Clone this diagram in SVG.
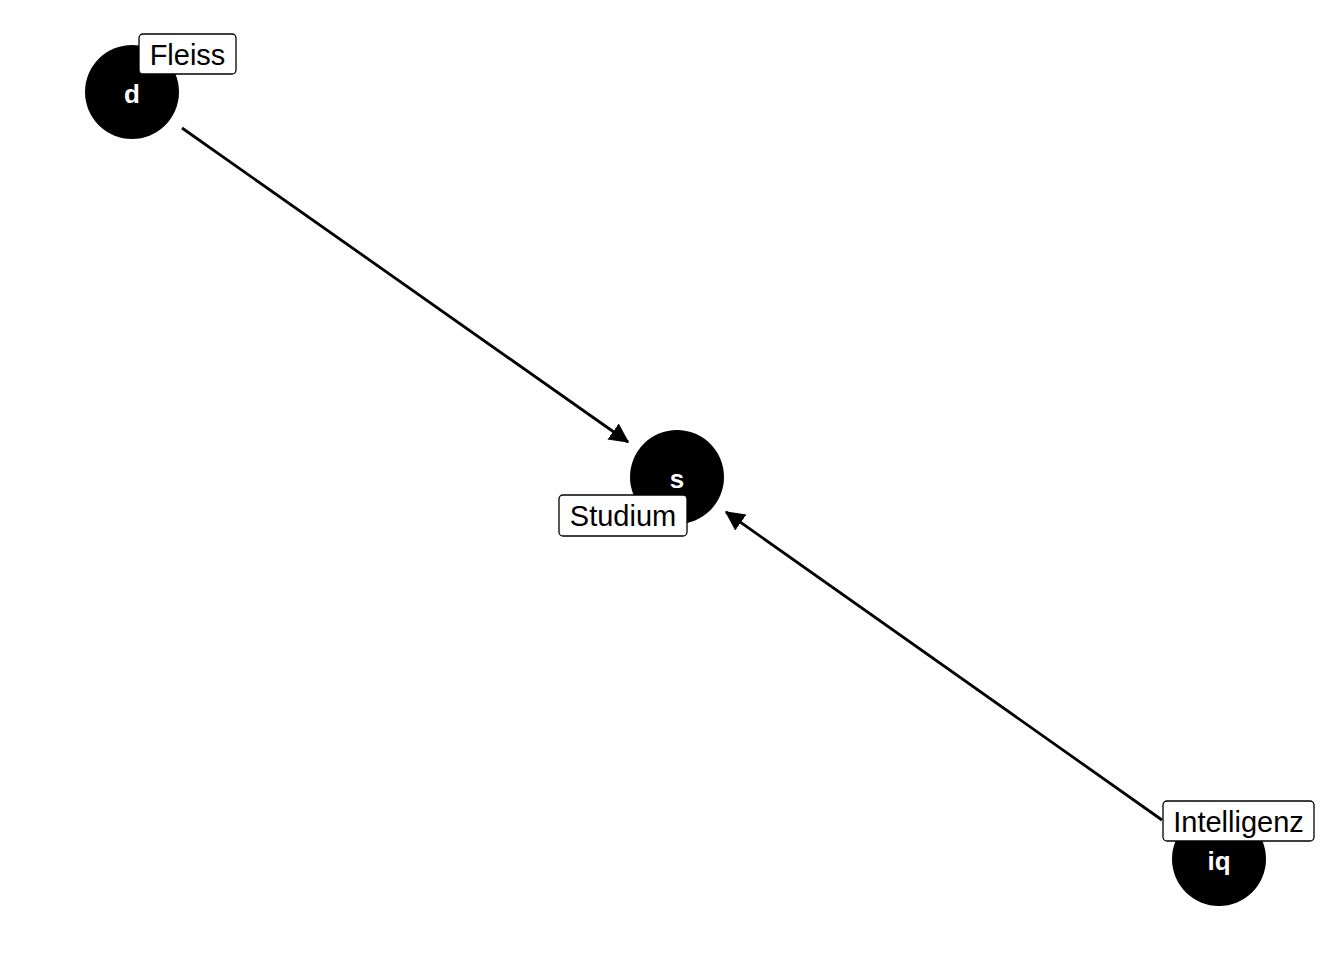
<svg xmlns="http://www.w3.org/2000/svg" width="1344" height="960" viewBox="0 0 1344 960">
<style>
.node{fill:#000}
.nt{font-family:"Liberation Sans",Arial,sans-serif;font-weight:bold;font-size:26px;fill:#fff;text-anchor:middle}
.lb{fill:#fff;stroke:#000;stroke-width:1.3}
.lt{font-family:"Liberation Sans",Arial,sans-serif;font-size:29px;fill:#000;text-anchor:middle}
.edge{stroke:#000;stroke-width:2.8;fill:none}
</style>
<defs>
<marker id="arr" markerWidth="8" markerHeight="8" refX="6.5" refY="3.5" orient="auto" markerUnits="strokeWidth" viewBox="0 0 8 7">
<path d="M0,0 L7,3.5 L0,7 Z" fill="#000"/>
</marker>
</defs>
<rect width="1344" height="960" fill="#fff"/>
<g id="connectors">
<line class="edge" x1="182" y1="128" x2="628" y2="442" marker-end="url(#arr)"/>
<line class="edge" x1="1162" y1="820" x2="726" y2="512" marker-end="url(#arr)"/>
</g>
<g id="node-d">
<circle class="node" cx="132" cy="92" r="47"/>
<text class="nt" x="132" y="103">d</text>
<rect class="lb" x="139" y="34" width="97" height="40" rx="4"/>
<text class="lt" x="187.5" y="65">Fleiss</text>
</g>
<g id="node-s">
<circle class="node" cx="677" cy="477" r="47"/>
<text class="nt" x="677" y="488">s</text>
<rect class="lb" x="559" y="495" width="128" height="41" rx="4"/>
<text class="lt" x="623" y="526">Studium</text>
</g>
<g id="node-iq">
<circle class="node" cx="1219" cy="859" r="47"/>
<text class="nt" x="1219" y="870">iq</text>
<rect class="lb" x="1163" y="801" width="151" height="40" rx="4"/>
<text class="lt" x="1238.5" y="832">Intelligenz</text>
</g>
</svg>
